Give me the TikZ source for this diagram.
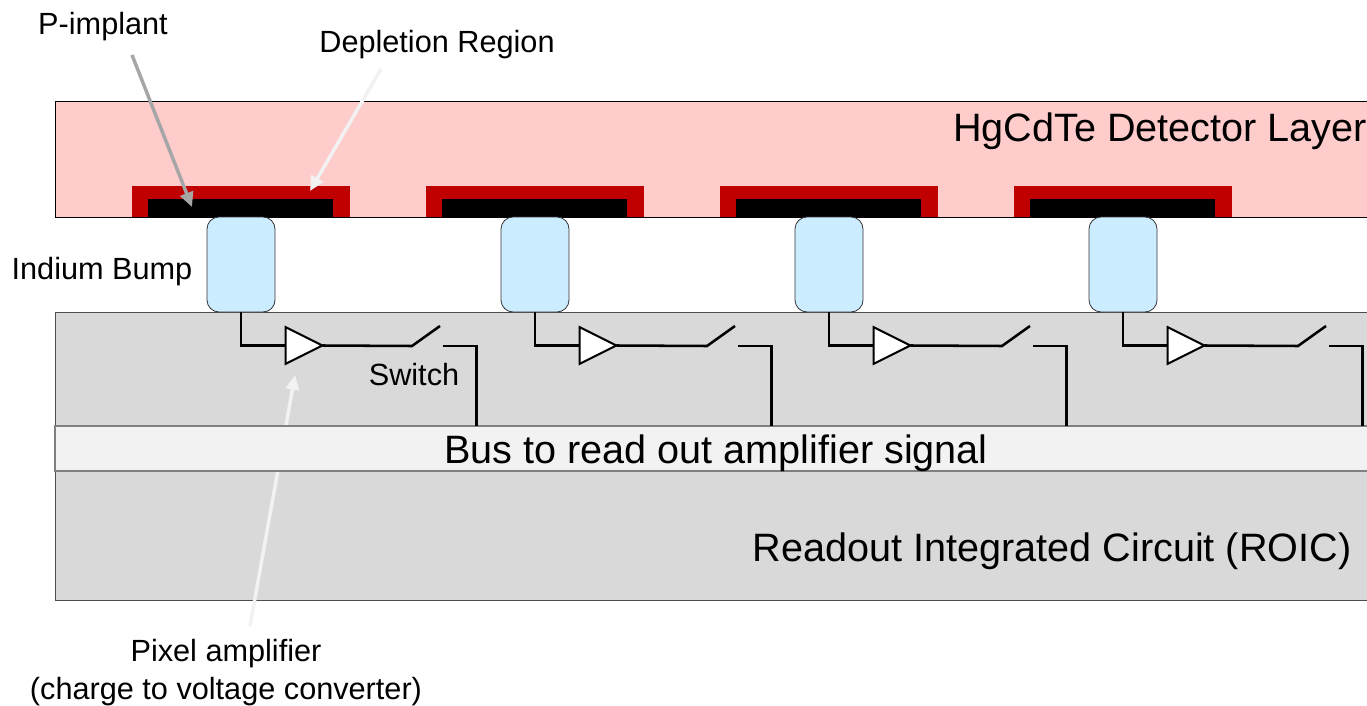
\documentclass[tikz,border=0pt]{standalone}
\usepackage{fontspec}
\setmainfont{Liberation Sans}
\usetikzlibrary{arrows.meta,shapes.geometric}
\definecolor{detpink}{HTML}{FFCCCC}
\definecolor{deplred}{HTML}{C00000}
\definecolor{bumpblue}{HTML}{CCECFF}
\definecolor{roicgray}{HTML}{D9D9D9}
\definecolor{busgray}{HTML}{F2F2F2}
\definecolor{edgegray}{HTML}{808080}
\definecolor{pointgray}{HTML}{A6A6A6}

\begin{document}
\begin{tikzpicture}[
  x=0.75pt, y=-0.75pt,
  small/.style={font=\fontsize{23}{27}\selectfont, inner sep=0pt, align=center},
  large/.style={font=\fontsize{29.7}{34}\selectfont, inner sep=0pt},
  layer/.style={draw, line width=0.6pt, anchor=north west, inner sep=0pt, outer sep=0pt, minimum width=990pt},
  depl/.style={fill=deplred, anchor=north west, inner sep=0pt, outer sep=0pt, minimum width=163.5pt, minimum height=23.25pt},
  implant/.style={fill=black, anchor=north west, inner sep=0pt, outer sep=0pt, minimum width=138.75pt, minimum height=13.5pt},
  bump/.style={draw=black!80, line width=0.6pt, fill=bumpblue, rounded corners=9pt, anchor=north west, inner sep=0pt, outer sep=0pt, minimum width=51pt, minimum height=71.25pt},
  amp/.style={draw, fill=white, line width=1.5pt, isosceles triangle, isosceles triangle apex angle=53.13, isosceles triangle stretches, minimum width=27.5pt, minimum height=27.5pt, inner sep=0pt, outer sep=0pt},
  wire/.style={line width=1.9pt},
  pointer/.style={-{Triangle[length=11pt,width=10pt]}, line width=2.6pt}
]
\clip (0,0) rectangle (1367,706);

% layers
\node[layer, fill=detpink, minimum height=87pt] (det) at (55,101) {};
\node[layer, draw=black!70, fill=roicgray, minimum height=216pt] (roic) at (55,312) {};

\coordinate (ampfrom) at (250,626);
\coordinate (ampto) at (295,375);
\draw[pointer, busgray] (ampfrom) -- (ampto);

\node[layer, draw=edgegray, line width=1.2pt, fill=busgray, minimum height=33.75pt] (bus) at (55,426) {};

% four pixels, the switch side drifts a little from the bump pitch
\foreach \n/\x/\s in {1/0/0, 2/294/295, 3/588/590, 4/882/886} {
  \node[depl] (depl\n) at (132+\x,186) {};
  \node[implant] (impl\n) at (148.4+\x,199) {};
  \node[bump] (bump\n) at (207+\x,217) {};
  \coordinate (swa\n) at (412+\s,346);
  \coordinate (swb\n) at (440+\s,326);
  \coordinate (swc\n) at (443+\s,346);
  \coordinate (tap\n) at (476.5+\s,426);
  \node[amp] (amp\n) at (297+\x,345.5) {};
  \draw[wire] (bump\n.south) |- (amp\n.lower side);
  \draw[wire] (amp\n.apex) -- (swa\n) -- (swb\n);
  \draw[wire] (swc\n) -| (tap\n);
}

\node[large] (dettext) at (1160,131) {HgCdTe Detector Layer};
\node[large] (bustext) at (716,453.5) {Bus to read out amplifier signal};
\node[large] (roictext) at (1052,551) {Readout Integrated Circuit (ROIC)};

\node[small] (ptext) at (103,27) {P-implant};
\node[small] (depltext) at (437,45) {Depletion Region};
\node[small] (bumptext) at (102,272) {Indium Bump};
\node[small] (swtext) at (414,375) {Switch};
\node[small] (amptext) at (226,672.5) {Pixel amplifier\\[1pt](charge to voltage converter)};

\coordinate (pfrom) at (132,55);
\coordinate (pto) at (192,207);
\coordinate (dfrom) at (381,69);
\coordinate (dto) at (310,191);
\draw[pointer, pointgray] (pfrom) -- (pto);
\draw[pointer, busgray] (dfrom) -- (dto);
\end{tikzpicture}
\end{document}
